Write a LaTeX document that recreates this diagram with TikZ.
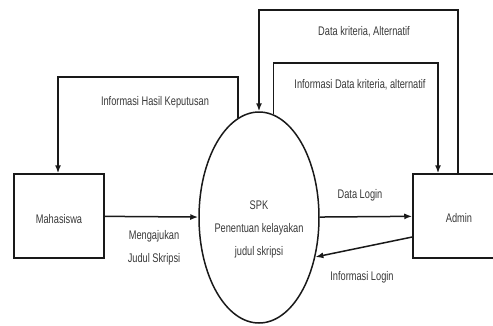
\documentclass[tikz,border=0pt]{standalone}
\usepackage{fontspec}
\setmainfont[FakeStretch=0.74]{Liberation Sans}
\usetikzlibrary{shapes.geometric,arrows.meta,calc}

\begin{document}
\begin{tikzpicture}[x=1pt,y=-1pt,
  flow/.style={line width=1.5pt, draw=black!90},
  arr/.style={flow, -{Latex[length=8pt,width=6pt]}},
  entity/.style={draw=black!90, line width=1.5pt, minimum width=90pt, minimum height=84pt, inner sep=0pt},
  lbl/.style={font=\fontsize{12.5}{23}\selectfont, text=black!78, align=center, inner sep=0pt}]
  \useasboundingbox (0,0) rectangle (493,325);

  % external entities and the process
  \node[entity] (mhs) at (59,216) {};
  \node[lbl] (mhstxt) at (59,219) {Mahasiswa};
  \node[entity, minimum width=83pt] (admin) at (454.5,216) {};
  \node[lbl] (admintxt) at (459,218) {Admin};
  \node[ellipse, draw=black!90, line width=1.5pt, minimum width=120pt, minimum height=211pt, inner sep=0pt] (spk) at (259,217.5) {};
  \node[lbl] (spktxt) at (259,229) {SPK\\Penentuan kelayakan\\judul skripsi};

  % corner points of the loops above the process
  \coordinate (hasilL) at (58,77);
  \coordinate (outerR) at (458,10);
  \coordinate (innerR) at (438,63);

  % data flows
  \draw[arr] (mhs) -- (spk);
  \draw[arr] (spk) -- (admin);
  \draw[arr] ($(admin.west)+(0,21)$) -- (spk.-35);
  \draw[arr] (spk.102.7) |- (hasilL) -- (hasilL |- mhs.north);
  \draw[arr] (admin.north -| outerR) -- (outerR) -| (spk.north);
  \draw[arr] (spk.82.8) |- (innerR) -- (innerR |- admin.north);

  % flow labels
  \node[lbl] (l1) at (155,102) {Informasi Hasil Keputusan};
  \node[lbl] (l2) at (364,32) {Data kriteria, Alternatif};
  \node[lbl] (l3) at (360,85) {Informasi Data kriteria, alternatif};
  \node[lbl] (l4) at (154,247.5) {Mengajukan\\Judul Skripsi};
  \node[lbl] (l5) at (360,195) {Data Login};
  \node[lbl] (l6) at (362,277) {Informasi Login};
\end{tikzpicture}
\end{document}
